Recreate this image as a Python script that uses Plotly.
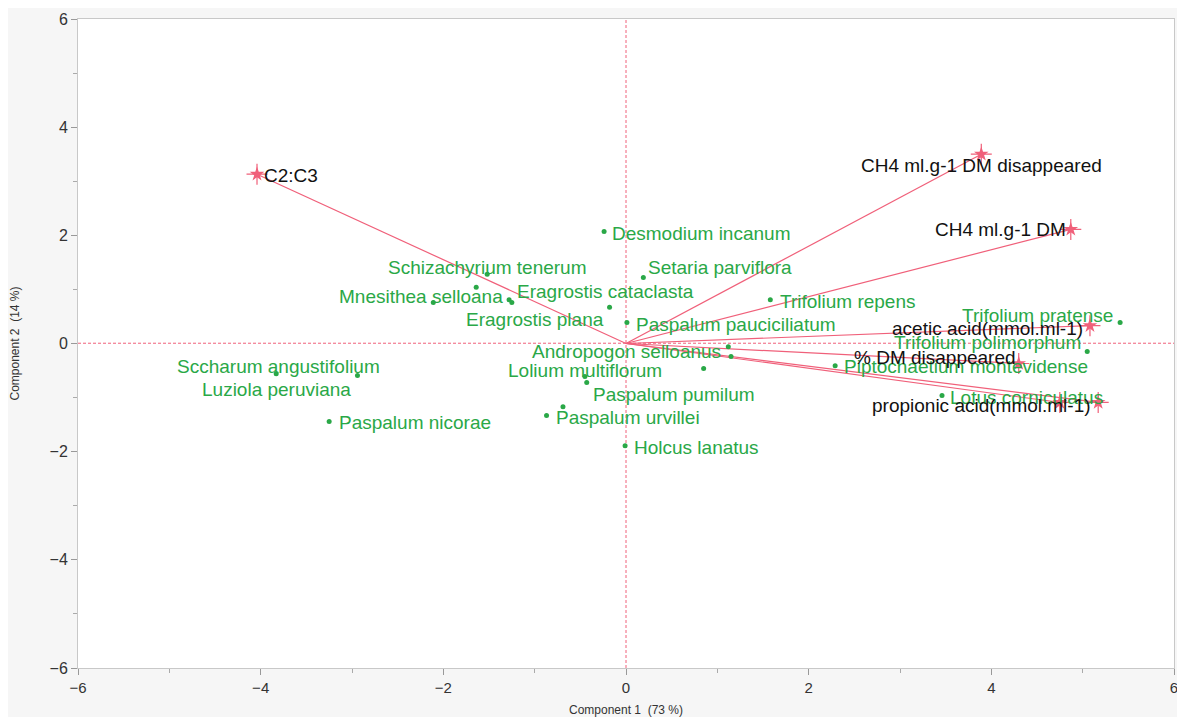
import plotly.graph_objects as go

# ---- Data: observation scores (Component 1, Component 2) ----
species = [
    "Schizachyrium tenerum", "", "", "Mnesithea selloana", "Eragrostis cataclasta",
    "Desmodium incanum", "Setaria parviflora", "Eragrostis plana", "Paspalum pauciciliatum",
    "Andropogon selloanus", "", "", "Lolium multiflorum", "Paspalum pumilum", "",
    "Paspalum urvillei", "Holcus lanatus", "Trifolium repens", "Piptochaetium montevidense",
    "Trifolium pratense", "Trifolium polimorphum", "Lotus corniculatus",
    "Sccharum angustifolium", "Luziola peruviana", "Paspalum nicorae",
]
comp1 = [-1.52, -1.64, -2.11, -1.28, -1.25, -0.24, 0.19, -0.18, 0.01,
         1.12, 1.15, 0.85, -0.45, -0.43, -0.69, -0.87, -0.01, 1.58, 2.29,
         5.41, 5.05, 3.46, -3.83, -2.94, -3.25]
comp2 = [1.28, 1.04, 0.76, 0.81, 0.76, 2.07, 1.22, 0.67, 0.39,
         -0.06, -0.24, -0.46, -0.61, -0.72, -1.17, -1.33, -1.89, 0.81, -0.41,
         0.39, -0.15, -0.96, -0.56, -0.59, -1.44]

# ---- Data: variable loadings (biplot vectors) ----
variables = ["C2:C3", "CH4 ml.g-1 DM disappeared", "CH4 ml.g-1 DM",
             "acetic acid(mmol.ml-1)", "% DM disappeared", "",
             "propionic acid(mmol.ml-1)"]
load1 = [-4.04, 3.89, 4.87, 5.08, 4.30, 4.75, 5.17]
load2 = [3.13, 3.50, 2.11, 0.33, -0.37, -1.09, -1.09]

x_ticks = [-6, -4, -2, 0, 2, 4, 6]
y_ticks = [-6, -4, -2, 0, 2, 4, 6]

# ---- Label placement (style only): anchor, xshift, yshift in px ----
sp_place = {
    "Schizachyrium tenerum": ("center", 0, 7),
    "Mnesithea selloana": ("right", -4, 3),
    "Eragrostis cataclasta": ("left", 3, 11),
    "Desmodium incanum": ("left", 6, -2),
    "Setaria parviflora": ("left", 3, 10),
    "Eragrostis plana": ("right", -4, -12),
    "Paspalum pauciciliatum": ("left", 7, -2),
    "Andropogon selloanus": ("right", -5, -5),
    "Lolium multiflorum": ("center", 0, 6),
    "Paspalum pumilum": ("left", 4, -12),
    "Paspalum urvillei": ("left", 7, -2),
    "Holcus lanatus": ("left", 7, -2),
    "Trifolium repens": ("left", 8, -2),
    "Piptochaetium montevidense": ("left", 7, -1),
    "Trifolium pratense": ("right", -5, 7),
    "Trifolium polimorphum": ("right", -4, 9),
    "Lotus corniculatus": ("left", 6, -2),
    "Sccharum angustifolium": ("center", 2, 7),
    "Luziola peruviana": ("right", -4, -14),
    "Paspalum nicorae": ("left", 8, -1),
}
var_place = {
    "C2:C3": ("left", 5, -1),
    "CH4 ml.g-1 DM disappeared": ("center", 0, -11),
    "CH4 ml.g-1 DM": ("right", -3, 0),
    "acetic acid(mmol.ml-1)": ("right", -5, -3),
    "% DM disappeared": ("right", -1, 6),
    "propionic acid(mmol.ml-1)": ("right", -5, -3),
}

GREEN = "#2aa847"
RED = "#f0607a"
FONT = "Liberation Sans, Arial, sans-serif"

fig = go.Figure()

# vectors from origin
lx, ly = [], []
for a, b in zip(load1, load2):
    lx += [0, a, None]
    ly += [0, b, None]
fig.add_trace(go.Scatter(x=lx, y=ly, mode="lines",
                         line=dict(color=RED, width=1.2), hoverinfo="skip",
                         showlegend=False))
fig.add_trace(go.Scatter(x=load1, y=load2, mode="markers",
                         marker=dict(symbol="cross-thin", size=15,
                                     line=dict(color=RED, width=1.2)),
                         showlegend=False, hoverinfo="skip"))
fig.add_trace(go.Scatter(x=load1, y=load2, mode="markers",
                         marker=dict(symbol="star", size=11, color=RED,
                                     line=dict(width=0)),
                         text=variables, showlegend=False))

# observations
fig.add_trace(go.Scatter(x=comp1, y=comp2, mode="markers",
                         marker=dict(size=5, color=GREEN),
                         text=species, showlegend=False))

annotations = []
for name, a, b in zip(species, comp1, comp2):
    if not name:
        continue
    anc, dx, dy = sp_place[name]
    annotations.append(dict(x=a, y=b, text=name, showarrow=False,
                            xanchor=anc, yanchor="middle", xshift=dx, yshift=dy,
                            font=dict(family=FONT, size=19, color=GREEN)))
for name, a, b in zip(variables, load1, load2):
    if not name:
        continue
    anc, dx, dy = var_place[name]
    annotations.append(dict(x=a, y=b, text=name, showarrow=False,
                            xanchor=anc, yanchor="middle", xshift=dx, yshift=dy,
                            font=dict(family=FONT, size=19, color="#111111")))

# page body has an 8px margin, so the figure is sized to fill the rest
fig.update_layout(
    width=1177, height=709,
    margin=dict(l=70, r=11, t=11, b=49),
    paper_bgcolor="#f6f6f6", plot_bgcolor="white",
    annotations=annotations,
    shapes=[
        dict(type="line", xref="x", yref="paper", x0=0, x1=0, y0=0, y1=1,
             line=dict(color=RED, width=1, dash="3px,2px"), layer="below"),
        dict(type="line", xref="paper", yref="y", x0=0, x1=1, y0=0.005, y1=0.005,
             line=dict(color=RED, width=1, dash="3px,2px"), layer="below"),
    ],
    font=dict(family=FONT),
)
fig.update_xaxes(range=[-6, 6], tickvals=x_ticks, ticks="outside", ticklen=6,
                 tickcolor="#999999", showgrid=False, zeroline=False,
                 showline=True, linecolor="#c8c8c8", mirror=True, automargin=False,
                 tickfont=dict(size=15, color="#333333"),
                 minor=dict(dtick=1, ticks="outside", ticklen=4, tickcolor="#aaaaaa"),
                 title=dict(text="Component 1  (73 %)", font=dict(size=12, color="#333333"),
                            standoff=10))
fig.update_yaxes(range=[-6, 6], tickvals=y_ticks, ticks="outside", ticklen=6,
                 tickcolor="#999999", showgrid=False, zeroline=False,
                 showline=True, linecolor="#c8c8c8", mirror=True, automargin=False,
                 tickfont=dict(size=16, color="#333333"),
                 minor=dict(dtick=1, ticks="outside", ticklen=4, tickcolor="#aaaaaa"),
                 title=dict(text="Component 2  (14 %)", font=dict(size=12, color="#333333"),
                            standoff=27))

fig.write_html("out.html")
